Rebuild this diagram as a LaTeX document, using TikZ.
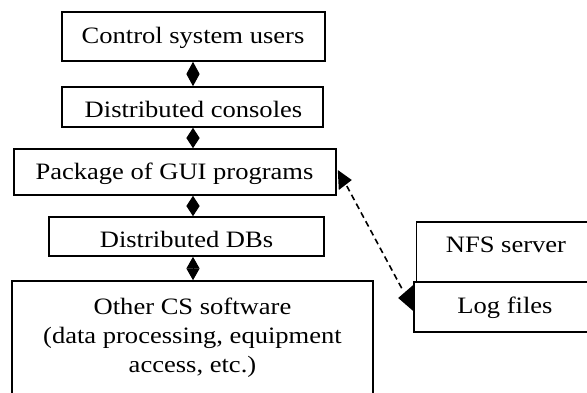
\documentclass[tikz,border=0pt]{standalone}
\usepackage{fontspec}
\setmainfont[FakeStretch=1.13]{Liberation Serif}
\usetikzlibrary{arrows.meta}
\tikzset{
  boxline/.style={draw=black, line width=1.6pt},
  txt/.style={anchor=base, inner sep=0pt, font=\fontsize{23.5}{29}\selectfont},
  dia/.style={line width=1pt, {Triangle[length=#1,width=13pt]}-{Triangle[length=#1,width=13pt]}},
  dashconn/.style={line width=1.6pt, dash pattern=on 6pt off 4pt},
  headfill/.style={fill=black, draw=none}
}
\begin{document}
\begin{tikzpicture}[x=1pt,y=-1pt]
\clip (0,0) rectangle (587,392);
\fill[white] (0,0) rectangle (587,392);
% boxes
\node[boxline, inner sep=0pt, minimum width=263pt, minimum height=49pt] (b1) at (193.5,36.5) {};
\node[boxline, inner sep=0pt, minimum width=261pt, minimum height=40pt] (b2) at (192.5,107) {};
\node[boxline, inner sep=0pt, minimum width=322pt, minimum height=46pt] (b3) at (175,172) {};
\node[boxline, inner sep=0pt, minimum width=275pt, minimum height=39pt] (b4) at (186.5,236.5) {};
\node[boxline, inner sep=0pt, minimum width=361pt, minimum height=140pt] (b5) at (192.5,351) {};
\node[boxline, inner sep=0pt, minimum width=200pt, minimum height=60pt] (nfs) at (516.5,252) {};
\node[boxline, inner sep=0pt, minimum width=200pt, minimum height=50pt] (log) at (514,307) {};
% texts
\node[txt] (t1) at (193,43.5) {Control system users};
\node[txt] (t2) at (193.5,117) {Distributed consoles};
\node[txt] (t3) at (174.5,179) {Package of GUI programs};
\node[txt] (t4) at (186.5,247) {Distributed DBs};
\node[txt] (t5a) at (192.5,314) {Other CS software};
\node[txt] (t5b) at (192.5,343) {(data processing, equipment};
\node[txt] (t5c) at (192.5,372) {access, etc.)};
\node[txt] (t6) at (506,252) {NFS server};
\node[txt] (t7) at (505,313) {Log files};
% vertical double connectors
\coordinate (axis) at (193,0);
\draw[dia=12.2pt] (b1.south -| axis) -- (b2.north -| axis);
\draw[dia=10.2pt] (b2.south -| axis) -- (b3.north -| axis);
\draw[dia=10.2pt] (b3.south -| axis) -- (b4.north -| axis);
\draw[dia=11.7pt] (b4.south -| axis) -- (b5.north -| axis);
% dashed connector
\coordinate (d1) at ([shift={(10,14)}]b3.east);
\coordinate (d2) at ([shift={(-10,-16)}]log.west);
\draw[dashconn] (d1) -- (d2);
\fill[headfill] ([shift={(1,-2)}]b3.east) -- ([shift={(15,8)}]b3.east) -- ([shift={(2,18)}]b3.east) -- cycle;
\fill[headfill] ([shift={(-15,-9)}]log.west) -- ([shift={(0,-22)}]log.west) -- ([shift={(0,4)}]log.west) -- cycle;
\end{tikzpicture}
\end{document}
